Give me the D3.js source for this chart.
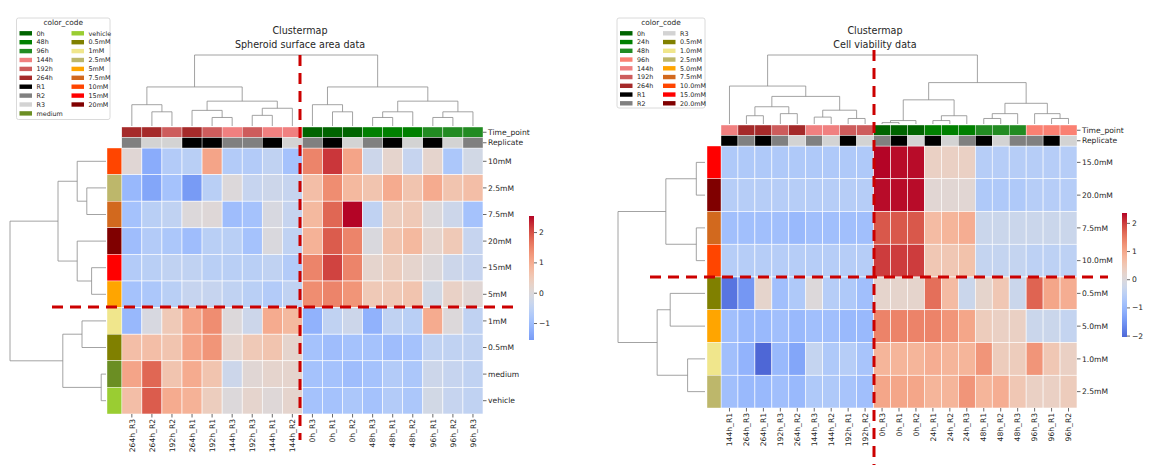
<!DOCTYPE html>
<html><head><meta charset="utf-8">
<script src="https://cdn.jsdelivr.net/npm/d3@7"></script>
<style>body{margin:0;background:#fff} text{font-family:"DejaVu Sans",sans-serif;fill:#262626}</style>
</head><body><svg id="c" width="1167" height="465"></svg>
<script>
// ---------------- DATA ----------------
const leftLegendKeys = ["0h","48h","96h","144h","192h","264h","R1","R2","R3","medium","vehicle","0.5mM","1mM","2.5mM","5mM","7.5mM","10mM","15mM","20mM"];
const leftLegendColors = ["#006400","#008000","#228B22","#F08080","#CD5C5C","#A52A2A","#000000","#808080","#D3D3D3","#6B8E23","#9ACD32","#808000","#F0E68C","#BDB76B","#FFA500","#D2691E","#FF4500","#FF0000","#800000"];
const leftRows = ["10mM","2.5mM","7.5mM","20mM","15mM","5mM","1mM","0.5mM","medium","vehicle"];
const leftCols = ["264h_R3","264h_R2","192h_R2","264h_R1","192h_R1","144h_R3","192h_R3","144h_R1","144h_R2","0h_R3","0h_R1","0h_R2","48h_R3","48h_R1","48h_R2","96h_R1","96h_R2","96h_R3"];
const leftColTime = ["264h","264h","192h","264h","192h","144h","192h","144h","144h","0h","0h","0h","48h","48h","48h","96h","96h","96h"];
const leftColRep = ["R2","R3","R3","R1","R1","R2","R2","R1","R3","R2","R1","R3","R2","R1","R3","R1","R3","R2"];
const leftValues = [
 [0.1,-1.3,-0.7,-0.6,1.1,-0.7,-0.7,-0.5,-0.9, 1.5,2.2,1.1,-0.3,0.2,-0.4,0.2,-0.8,-0.2],
 [-1.1,-1.4,-0.9,-1.56,-0.6,0.0,-0.4,-0.3,-0.4, 0.7,1.4,0.8,0.6,1.0,0.6,1.0,0.6,0.7],
 [-0.9,-0.6,-0.5,0.0,0.05,-1.0,-0.9,-0.1,-0.4, 0.8,1.8,2.53,-0.5,0.4,0.5,0.0,-0.3,-0.9],
 [-1.0,-0.7,-0.8,-1.0,-0.6,-0.6,-0.9,-0.05,-0.5, 0.9,1.9,1.5,-0.05,0.6,0.8,0.2,0.5,-0.4],
 [-0.7,-0.6,-0.5,-0.5,-0.6,-0.6,-0.6,-0.5,-0.7, 1.5,2.1,1.5,0.2,0.4,0.2,0.0,-0.3,-0.4],
 [-0.9,-0.8,-0.6,-0.4,-0.4,-0.5,-0.6,-0.7,-0.5, 1.4,1.5,1.3,0.5,0.5,0.6,-0.2,0.3,0.1],
 [-1.1,-0.1,0.5,1.1,1.4,0.0,-0.3,1.0,0.8, -1.2,-0.5,-0.3,-1.2,-0.5,-0.6,1.0,0.0,-0.5],
 [0.7,0.7,0.6,1.1,1.3,0.2,0.5,0.6,0.2, -0.9,-1.0,-0.9,-0.9,-1.0,-0.9,-0.5,-0.5,-0.5],
 [1.1,1.8,0.6,1.0,0.6,-0.3,0.1,0.2,0.2, -0.9,-0.9,-1.0,-0.9,-0.7,-0.8,-0.3,-0.4,-0.5],
 [0.7,1.9,1.0,0.9,0.4,0.0,0.2,0.05,0.2, -0.9,-0.9,-0.8,-0.9,-0.7,-0.8,-0.2,-0.4,-0.5]
];
const leftColTree = [1.0,
  [0.55,[0.3,0,[0.2,1,2]],[0.35,[0.22,3,[0.12,4,5]],[0.25,[0.15,6,7],8]]],
  [0.55,[0.3,9,[0.2,10,11]],[0.35,[0.2,[0.12,12,13],14],[0.2,[0.12,15,16],17]]]];
const leftRowTree = [1.0,
  [0.5,[0.3,0,[0.2,1,2]],[0.3,3,[0.15,4,5]]],
  [0.45,[0.25,6,7],[0.05,8,9]]];
const leftCbarTicks = [-1,0,1,2];

const rightLegendKeys = ["0h","24h","48h","96h","144h","192h","264h","R1","R2","R3","0.5mM","1.0mM","2.5mM","5.0mM","7.5mM","10.0mM","15.0mM","20.0mM"];
const rightLegendColors = ["#006400","#008000","#228B22","#FA8072","#F08080","#CD5C5C","#A52A2A","#000000","#808080","#D3D3D3","#808000","#F0E68C","#BDB76B","#FFA500","#D2691E","#FF4500","#FF0000","#800000"];
const rightRows = ["15.0mM","20.0mM","7.5mM","10.0mM","0.5mM","5.0mM","1.0mM","2.5mM"];
const rightCols = ["144h_R1","264h_R3","264h_R1","192h_R3","264h_R2","144h_R3","144h_R2","192h_R1","192h_R2","0h_R3","0h_R1","0h_R2","24h_R1","24h_R2","24h_R3","48h_R1","48h_R2","48h_R3","96h_R3","96h_R1","96h_R2"];
const rightColTime = ["144h","264h","264h","192h","264h","144h","144h","192h","192h","0h","0h","0h","24h","24h","24h","48h","48h","48h","96h","96h","96h"];
const rightColRep = ["R1","R2","R1","R2","R3","R2","R3","R1","R3","R2","R1","R3","R1","R3","R2","R1","R3","R2","R2","R1","R3"];
const rightValues = [
 [-0.7,-0.7,-0.7,-0.7,-0.7,-0.7,-0.7,-0.7,-0.7, 2.35,2.3,2.3,0.3,0.3,0.3,-0.6,-0.6,-0.6,-0.6,-0.6,-0.6],
 [-0.6,-0.6,-0.6,-0.6,-0.6,-0.6,-0.6,-0.6,-0.6, 2.3,2.3,2.3,0.1,0.1,0.1,-0.7,-0.7,-0.7,-0.6,-0.6,-0.6],
 [-0.9,-0.9,-0.9,-0.9,-1.0,-0.9,-0.9,-0.9,-0.9, 1.8,1.8,1.8,0.7,0.8,0.9,-0.3,-0.3,-0.3,-0.3,-0.3,-0.3],
 [-0.6,-0.6,-0.6,-0.6,-0.6,-0.6,-0.6,-0.6,-0.6, 2.0,2.0,2.0,0.5,0.5,0.6,-0.4,-0.4,-0.4,-0.5,-0.5,-0.5],
 [-1.9,-1.5,0.2,-0.9,-0.7,0.0,-0.6,-0.7,-0.9, 0.2,0.2,0.2,1.6,0.7,-0.3,0.2,0.5,-0.3,1.7,1.0,0.9],
 [-0.9,-1.0,-1.0,-0.9,-1.0,-0.9,-0.9,-1.0,-1.0, 1.4,1.4,1.4,1.4,1.2,1.0,0.4,0.3,0.3,-0.3,-0.3,-0.4],
 [-0.9,-1.1,-2.05,-1.0,-1.3,-0.4,-0.7,-0.6,-0.8, 0.8,0.8,0.8,0.9,0.8,0.8,1.2,0.4,0.4,1.2,0.5,0.3],
 [-0.9,-1.0,-1.0,-0.9,-1.0,-0.7,-0.7,-0.8,-0.9, 1.0,1.0,1.0,0.8,0.8,1.2,0.8,0.9,0.5,0.3,0.3,0.4]
];
const rightColTree = [1.0,
  [0.55,0,[0.4,[0.25,[0.12,1,2],[0.15,3,4]],[0.2,[0.1,5,6],[0.08,7,8]]]],
  [0.6,[0.35,[0.05,[0.02,9,10],11],[0.12,[0.05,12,13],14]],[0.3,[0.15,[0.08,15,16],17],[0.15,18,[0.08,19,20]]]]];
const rightRowTree = [1.0,
  [0.45,[0.1,0,1],[0.1,2,3]],
  [0.55,[0.4,4,5],[0.2,6,7]]];
const rightCbarTicks = [-2,-1,0,1,2];

// ---------------- STYLE / HELPERS ----------------
const coolwarmStops = ["#3b4cc0","#5977e3","#7b9ff9","#9ebeff","#c0d4f5","#dddcdc","#f2cbb7","#f7ac8e","#ee8468","#d65244","#b40426"];
const coolwarm = d3.interpolateRgbBasis(coolwarmStops);
const svg = d3.select("#c");
const FONT = "DejaVu Sans, sans-serif";

function clustermap(cfg){
  const g = svg.append("g");
  const cmap = {}; cfg.legendKeys.forEach((k,i)=>cmap[k]=cfg.legendColors[i]);
  const x = d3.scaleBand().domain(d3.range(cfg.cols.length)).range([cfg.hx0,cfg.hx1]);
  const y = d3.scaleBand().domain(d3.range(cfg.rows.length)).range([cfg.hy0,cfg.hy1]);
  const flat = cfg.values.flat();
  const vmin = d3.min(flat), vmax = d3.max(flat);
  const M = Math.max(Math.abs(vmin),Math.abs(vmax));
  const norm = d3.scaleLinear().domain([-M,M]).range([0,1]);
  const color = v => coolwarm(norm(v));
  cfg.values.forEach((row,ri)=>row.forEach((v,ci)=>{
    g.append("rect").attr("x",x(ci)).attr("y",y(ri)).attr("width",x.bandwidth()).attr("height",y.bandwidth())
     .attr("fill",color(v)).attr("stroke","#fff").attr("stroke-width",0.6);
  }));
  const cc = d3.scaleBand().domain([0,1]).range([cfg.ccy0,cfg.hy0]);
  [cfg.colTime,cfg.colRep].forEach((arr,k)=>arr.forEach((key,ci)=>{
    g.append("rect").attr("x",x(ci)).attr("y",cc(k)).attr("width",x.bandwidth()).attr("height",cc.bandwidth())
     .attr("fill",cmap[key]).attr("stroke","#fff").attr("stroke-width",0.4);
  }));
  ["Time_point","Replicate"].forEach((t,k)=>{
    const yy = cc(k)+cc.bandwidth()/2;
    g.append("line").attr("x1",cfg.hx1).attr("x2",cfg.hx1+3.5).attr("y1",yy).attr("y2",yy).attr("stroke","#262626").attr("stroke-width",0.7);
    g.append("text").attr("x",cfg.hx1+5).attr("y",yy).attr("dy","0.35em").attr("font-size",7.6).text(t);
  });
  cfg.rows.forEach((r,ri)=>{
    g.append("rect").attr("x",cfg.rcx0).attr("y",y(ri)).attr("width",cfg.hx0-cfg.rcx0).attr("height",y.bandwidth())
     .attr("fill",cmap[r]).attr("stroke","#fff").attr("stroke-width",0.4);
  });
  cfg.rows.forEach((r,ri)=>{
    const yy = y(ri)+y.bandwidth()/2;
    g.append("line").attr("x1",cfg.hx1).attr("x2",cfg.hx1+3.5).attr("y1",yy).attr("y2",yy).attr("stroke","#262626").attr("stroke-width",0.7);
    g.append("text").attr("x",cfg.hx1+5).attr("y",yy).attr("dy","0.35em").attr("font-size",7.6).text(r);
  });
  cfg.cols.forEach((c,ci)=>{
    const xx = x(ci)+x.bandwidth()/2;
    g.append("line").attr("x1",xx).attr("x2",xx).attr("y1",cfg.hy1).attr("y2",cfg.hy1+3.5).attr("stroke","#262626").attr("stroke-width",0.7);
    g.append("text").attr("transform",`translate(${xx},${cfg.hy1+5}) rotate(-90)`).attr("text-anchor","end").attr("dy","0.35em").attr("font-size",7.6).text(c);
  });
  const denStroke = "#8c8c8c";
  const colH = d3.scaleLinear().domain([0,cfg.colTree[0]]).range([cfg.cdBottom,cfg.cdTop]);
  function walkCol(n){
    if(typeof n === "number") return {p:x(n)+x.bandwidth()/2,h:0};
    const a = walkCol(n[1]), b = walkCol(n[2]);
    g.append("path").attr("d",`M${a.p},${colH(a.h)}V${colH(n[0])}H${b.p}V${colH(b.h)}`).attr("fill","none").attr("stroke",denStroke).attr("stroke-width",0.8);
    return {p:(a.p+b.p)/2,h:n[0]};
  }
  walkCol(cfg.colTree);
  const rowH = d3.scaleLinear().domain([0,cfg.rowTree[0]]).range([cfg.rdRight,cfg.rdLeft]);
  function walkRow(n){
    if(typeof n === "number") return {p:y(n)+y.bandwidth()/2,h:0};
    const a = walkRow(n[1]), b = walkRow(n[2]);
    g.append("path").attr("d",`M${rowH(a.h)},${a.p}H${rowH(n[0])}V${b.p}H${rowH(b.h)}`).attr("fill","none").attr("stroke",denStroke).attr("stroke-width",0.8);
    return {p:(a.p+b.p)/2,h:n[0]};
  }
  walkRow(cfg.rowTree);
  const cb = d3.scaleLinear().domain([vmin,vmax]).range([cfg.cbBottom,cfg.cbTop]);
  const gid = "grad"+cfg.id;
  const grad = svg.append("defs").append("linearGradient").attr("id",gid).attr("x1",0).attr("x2",0).attr("y1",1).attr("y2",0);
  d3.range(0,1.0001,0.05).forEach(t=>{
    const v = vmin + t*(vmax-vmin);
    grad.append("stop").attr("offset",t).attr("stop-color",color(v));
  });
  g.append("rect").attr("x",cfg.cbx).attr("y",cfg.cbTop).attr("width",5).attr("height",cfg.cbBottom-cfg.cbTop).attr("fill",`url(#${gid})`);
  const ax = g.append("g").attr("transform",`translate(${cfg.cbx+5},0)`)
    .call(d3.axisRight(cb).tickValues(cfg.cbTicks).tickSize(3).tickPadding(2).tickFormat(d=>d<0?"\u2212"+Math.abs(d):d));
  ax.select(".domain").remove();
  ax.selectAll("text").attr("font-size",7.6).attr("font-family",FONT).attr("fill","#262626");
  ax.selectAll("line").attr("stroke","#262626").attr("stroke-width",0.7);
  const lg = g.append("g");
  lg.append("rect").attr("x",cfg.lgx).attr("y",cfg.lgy).attr("width",cfg.lgw).attr("height",cfg.lgh).attr("rx",2)
    .attr("fill","#fff").attr("stroke","#d0d0d0").attr("stroke-width",0.8);
  lg.append("text").attr("x",cfg.lgx+cfg.lgw/2).attr("y",cfg.lgy+7).attr("text-anchor","middle").attr("font-size",7.4).text("color_code");
  const per = Math.ceil(cfg.legendKeys.length/2);
  cfg.legendKeys.forEach((k,i)=>{
    const col = Math.floor(i/per), r = i%per;
    const lx = cfg.lgx + 3 + col*cfg.lgColW, ly = cfg.lgy + 15.3 + r*cfg.lgStep;
    lg.append("rect").attr("x",lx).attr("y",ly-2.2).attr("width",12.5).attr("height",4.4).attr("fill",cfg.legendColors[i]);
    lg.append("text").attr("x",lx+17).attr("y",ly).attr("dy","0.35em").attr("font-size",6.4).text(k);
  });
  g.append("text").attr("x",cfg.tx).attr("y",34).attr("text-anchor","middle").attr("font-size",9.6).text("Clustermap");
  g.append("text").attr("x",cfg.tx).attr("y",48).attr("text-anchor","middle").attr("font-size",9.6).text(cfg.subtitle);
  const dash = {stroke:"#cc0000","stroke-width":3,"stroke-dasharray":"11,7"};
  const l1 = g.append("line").attr("x1",cfg.vx).attr("x2",cfg.vx).attr("y1",cfg.vy0).attr("y2",cfg.vy1);
  const l2 = g.append("line").attr("x1",cfg.hlx0).attr("x2",cfg.hlx1).attr("y1",cfg.hly).attr("y2",cfg.hly);
  [l1,l2].forEach(l=>Object.entries(dash).forEach(([k,v])=>l.attr(k,v)));
}

clustermap({id:"L",legendKeys:leftLegendKeys,legendColors:leftLegendColors,rows:leftRows,cols:leftCols,
  colTime:leftColTime,colRep:leftColRep,values:leftValues,colTree:leftColTree,rowTree:leftRowTree,cbTicks:leftCbarTicks,
  hx0:121.8,hx1:483,hy0:148,hy1:414,ccy0:127,rcx0:107,cdBottom:126,cdTop:55,rdRight:106,rdLeft:10,
  cbx:529,cbTop:216,cbBottom:340,lgx:16.5,lgy:18,lgw:93.5,lgh:101.5,lgColW:52,lgStep:8.9,
  tx:300,subtitle:"Spheroid surface area data",vx:300,vy0:55,vy1:440,hly:307,hlx0:52,hlx1:517});
clustermap({id:"R",legendKeys:rightLegendKeys,legendColors:rightLegendColors,rows:rightRows,cols:rightCols,
  colTime:rightColTime,colRep:rightColRep,values:rightValues,colTree:rightColTree,rowTree:rightRowTree,cbTicks:rightCbarTicks,
  hx0:721,hx1:1077,hy0:146,hy1:408,ccy0:125,rcx0:707,cdBottom:124,cdTop:55,rdRight:705,rdLeft:618,
  cbx:1122,cbTop:213,cbBottom:337,lgx:617,lgy:18,lgw:88,lgh:90,lgColW:43,lgStep:8.75,
  tx:875,subtitle:"Cell viability data",vx:874,vy0:50,vy1:465,hly:277,hlx0:650,hlx1:1108});
</script></body></html>
